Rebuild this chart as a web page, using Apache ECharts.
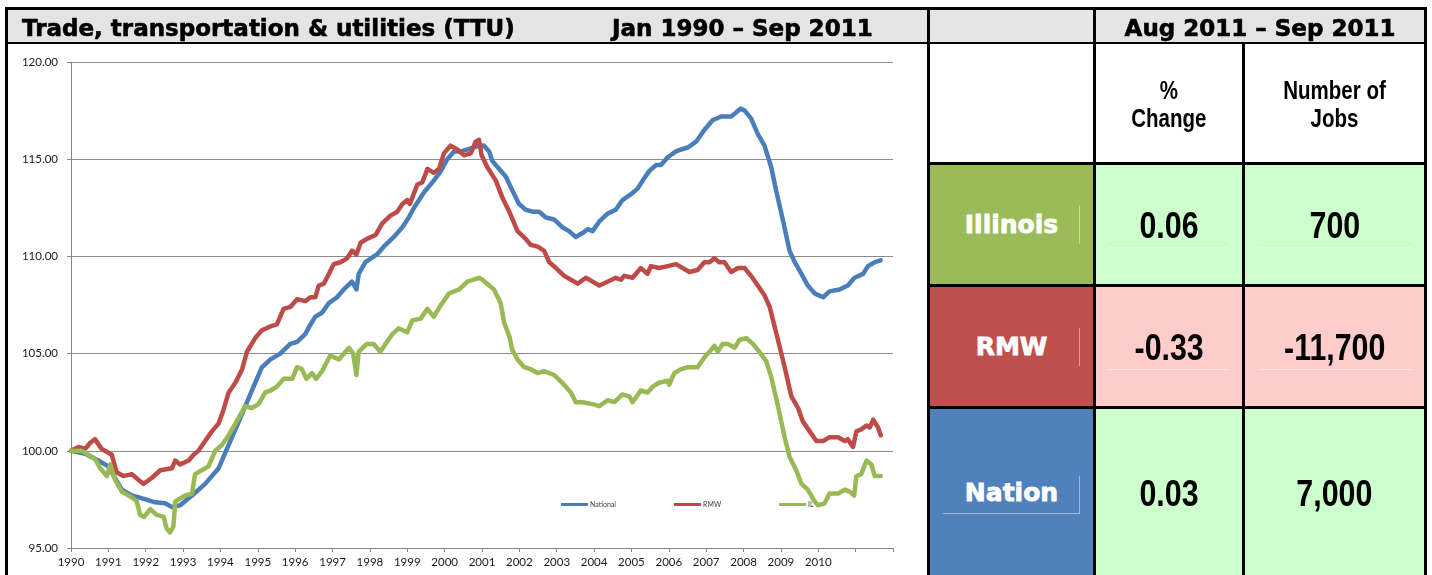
<!DOCTYPE html>
<html>
<head>
<meta charset="utf-8">
<script src="https://cdn.jsdelivr.net/npm/echarts@6/dist/echarts.min.js"></script>
<style>
  html, body { margin: 0; padding: 0; background: #fff; }
  #page { position: relative; width: 1432px; height: 575px; overflow: hidden; background: #fff; }
  #chart { position: absolute; left: 0; top: 0; width: 1432px; height: 575px; }
  .box { position: absolute; }
  .blk { position: absolute; background: #000; }
  .cell { position: absolute; display: flex; align-items: center; justify-content: center; text-align: center; }
  .hdr { font-family: "DejaVu Sans", Verdana, sans-serif; font-weight: bold; font-size: 23px; color: #000; white-space: nowrap; -webkit-text-stroke: 0.6px #000; }
  .narrow { display: inline-block; transform: scaleX(0.82); font-family: "Liberation Sans", Arial, sans-serif; font-weight: bold; color: #000; white-space: nowrap; }
  .region { font-family: "DejaVu Sans", Verdana, sans-serif; font-weight: bold; font-size: 25px; color: #fff; -webkit-text-stroke: 0.8px #fff; }
  .faint { position: absolute; background: rgba(255,255,255,0.45); }
</style>
</head>
<body>
<div id="page">
  <div id="chart"></div>
</div>
<script>
// series: [year, index]
const seriesNames = ['National', 'RMW', 'IL'];
const seriesColors = ['#4A7EBB', '#BE4B48', '#98B954'];

const nationalPts = [
  [1990.0,100.0],[1990.38,99.85],[1990.73,99.5],[1991.0,99.2],[1991.18,98.6],[1991.36,98.0],[1991.63,97.7],
  [1992.0,97.5],[1992.25,97.35],[1992.52,97.3],[1992.7,97.1],[1992.92,97.2],[1993.24,97.7],[1993.59,98.3],
  [1993.95,99.1],[1994.22,100.3],[1994.49,101.5],[1994.84,103.1],[1995.11,104.3],[1995.34,104.7],[1995.6,105.0],
  [1995.87,105.5],[1996.05,105.6],[1996.27,106.0],[1996.41,106.5],[1996.54,106.9],[1996.72,107.1],[1996.9,107.6],
  [1997.12,107.9],[1997.3,108.3],[1997.52,108.7],[1997.64,108.3],[1997.7,109.1],[1997.88,109.7],[1998.19,110.1],
  [1998.37,110.5],[1998.64,111.0],[1998.87,111.5],[1999.04,112.0],[1999.18,112.5],[1999.45,113.3],[1999.71,113.9],
  [1999.9,114.4],[2000.07,115.0],[2000.25,115.4],[2000.43,115.4],[2000.61,115.5],[2000.79,115.6],[2000.92,115.7],
  [2001.05,115.7],[2001.19,115.4],[2001.28,114.9],[2001.46,114.5],[2001.64,114.1],[2001.81,113.4],[2001.99,112.7],
  [2002.17,112.4],[2002.35,112.3],[2002.53,112.3],[2002.71,112.0],[2002.93,111.9],[2003.15,111.5],[2003.33,111.3],
  [2003.51,111.0],[2003.69,111.2],[2003.83,111.4],[2003.96,111.3],[2004.14,111.8],[2004.36,112.2],[2004.58,112.4],
  [2004.76,112.9],[2004.99,113.2],[2005.17,113.5],[2005.3,113.9],[2005.48,114.4],[2005.66,114.7],[2005.79,114.7],
  [2005.97,115.1],[2006.19,115.4],[2006.33,115.5],[2006.51,115.6],[2006.73,115.9],[2006.95,116.5],[2007.17,117.0],
  [2007.4,117.2],[2007.67,117.2],[2007.8,117.4],[2007.92,117.6],[2008.03,117.5],[2008.2,117.1],[2008.38,116.3],
  [2008.56,115.7],[2008.74,114.6],[2008.87,113.4],[2009.05,111.9],[2009.23,110.3],[2009.37,109.7],[2009.55,109.1],
  [2009.72,108.5],[2009.9,108.1],[2010.13,107.9],[2010.3,108.2],[2010.57,108.3],[2010.79,108.5],[2010.97,108.9],
  [2011.2,109.1],[2011.33,109.5],[2011.51,109.7],[2011.67,109.8]
];

const rmwPts = [
  [1990.0,100.0],[1990.2,100.2],[1990.38,100.1],[1990.51,100.4],[1990.64,100.6],[1990.82,100.1],[1991.0,99.9],
  [1991.09,99.8],[1991.22,98.9],[1991.4,98.7],[1991.63,98.8],[1991.81,98.5],[1991.94,98.3],[1992.16,98.6],
  [1992.39,99.0],[1992.7,99.1],[1992.79,99.5],[1992.92,99.3],[1993.15,99.5],[1993.28,99.8],[1993.41,100.0],
  [1993.59,100.5],[1993.77,101.0],[1993.95,101.4],[1994.08,102.1],[1994.22,103.0],[1994.4,103.5],[1994.58,104.2],
  [1994.71,105.1],[1994.93,105.8],[1995.11,106.2],[1995.34,106.4],[1995.51,106.5],[1995.69,107.3],[1995.87,107.4],
  [1996.05,107.8],[1996.27,107.7],[1996.41,107.9],[1996.54,107.9],[1996.63,108.5],[1996.77,108.6],[1996.9,109.1],
  [1997.03,109.6],[1997.21,109.7],[1997.39,109.9],[1997.52,110.3],[1997.64,110.1],[1997.75,110.7],[1997.92,110.9],
  [1998.15,111.1],[1998.33,111.7],[1998.55,112.1],[1998.73,112.3],[1998.87,112.7],[1999.0,112.9],[1999.07,112.7],
  [1999.27,113.7],[1999.4,113.8],[1999.54,114.5],[1999.71,114.3],[1999.85,114.5],[1999.98,115.3],[2000.16,115.7],
  [2000.34,115.5],[2000.52,115.2],[2000.7,115.3],[2000.83,115.9],[2000.92,116.0],[2000.99,115.2],[2001.14,114.6],
  [2001.37,113.9],[2001.55,113.0],[2001.73,112.3],[2001.95,111.3],[2002.17,110.9],[2002.3,110.6],[2002.49,110.5],
  [2002.66,110.3],[2002.8,109.7],[2002.98,109.4],[2003.2,109.0],[2003.38,108.8],[2003.56,108.6],[2003.78,108.9],
  [2003.96,108.7],[2004.14,108.5],[2004.36,108.7],[2004.58,108.9],[2004.72,108.8],[2004.81,109.0],[2005.03,108.9],
  [2005.25,109.4],[2005.43,109.1],[2005.52,109.5],[2005.74,109.4],[2005.97,109.5],[2006.19,109.6],[2006.46,109.3],
  [2006.55,109.2],[2006.77,109.3],[2006.95,109.7],[2007.09,109.7],[2007.22,109.9],[2007.35,109.7],[2007.49,109.7],
  [2007.67,109.2],[2007.85,109.4],[2008.03,109.4],[2008.2,109.0],[2008.38,108.5],[2008.56,108.0],[2008.7,107.4],
  [2008.83,106.4],[2008.96,105.4],[2009.1,104.3],[2009.28,102.8],[2009.46,102.2],[2009.59,101.5],[2009.77,101.0],
  [2009.95,100.5],[2010.13,100.5],[2010.3,100.7],[2010.53,100.7],[2010.71,100.5],[2010.79,100.6],[2010.93,100.2],
  [2011.02,101.0],[2011.15,101.1],[2011.29,101.3],[2011.38,101.2],[2011.47,101.6],[2011.6,101.2],[2011.67,100.8]
];

const ilPts = [
  [1990.0,100.0],[1990.29,100.0],[1990.46,99.8],[1990.64,99.6],[1990.78,99.1],[1990.96,98.7],[1991.05,99.3],
  [1991.18,98.5],[1991.36,97.9],[1991.63,97.6],[1991.76,97.4],[1991.85,96.7],[1991.96,96.6],[1992.12,97.0],
  [1992.3,96.7],[1992.48,96.6],[1992.56,96.0],[1992.65,95.8],[1992.74,96.1],[1992.79,97.4],[1993.06,97.7],
  [1993.24,97.8],[1993.32,98.8],[1993.5,99.0],[1993.68,99.2],[1993.86,100.0],[1994.04,100.3],[1994.22,100.8],
  [1994.4,101.4],[1994.66,102.3],[1994.84,102.2],[1995.02,102.4],[1995.2,103.0],[1995.34,103.1],[1995.51,103.3],
  [1995.69,103.7],[1995.92,103.7],[1996.05,104.3],[1996.18,104.2],[1996.3,103.7],[1996.45,104.0],[1996.56,103.7],
  [1996.72,104.1],[1996.94,104.9],[1997.17,104.7],[1997.44,105.3],[1997.55,105.0],[1997.64,103.9],[1997.7,105.1],
  [1997.92,105.5],[1998.1,105.5],[1998.28,105.1],[1998.42,105.5],[1998.6,106.0],[1998.77,106.3],[1999.0,106.1],
  [1999.13,106.7],[1999.36,106.8],[1999.54,107.3],[1999.71,106.9],[1999.9,107.5],[2000.12,108.1],[2000.39,108.3],
  [2000.61,108.7],[2000.92,108.9],[2001.01,108.8],[2001.32,108.3],[2001.5,107.6],[2001.59,106.6],[2001.73,105.9],
  [2001.81,105.2],[2001.95,104.7],[2002.13,104.3],[2002.3,104.2],[2002.49,104.0],[2002.66,104.1],[2002.93,103.9],
  [2003.15,103.5],[2003.38,103.0],[2003.51,102.5],[2003.69,102.5],[2003.96,102.4],[2004.14,102.3],[2004.36,102.6],
  [2004.54,102.5],[2004.76,102.9],[2004.94,102.8],[2005.03,102.5],[2005.25,103.1],[2005.43,103.0],[2005.57,103.3],
  [2005.74,103.5],[2005.97,103.6],[2006.01,103.4],[2006.15,104.0],[2006.33,104.2],[2006.51,104.3],[2006.77,104.3],
  [2006.95,104.8],[2007.09,105.1],[2007.22,105.4],[2007.31,105.1],[2007.44,105.5],[2007.58,105.5],[2007.76,105.3],
  [2007.89,105.7],[2008.07,105.8],[2008.25,105.5],[2008.42,105.1],[2008.61,104.6],[2008.74,103.8],[2008.92,102.3],
  [2009.1,100.7],[2009.23,99.7],[2009.41,99.0],[2009.55,98.3],[2009.72,98.0],[2009.9,97.4],[2009.99,97.2],
  [2010.17,97.3],[2010.3,97.8],[2010.53,97.8],[2010.71,98.0],[2010.84,97.9],[2010.96,97.7],[2011.02,98.7],
  [2011.15,98.8],[2011.29,99.5],[2011.42,99.3],[2011.51,98.7],[2011.67,98.7]
];

// table on the right: Aug 2011 - Sep 2011
const regions = ['Illinois', 'RMW', 'Nation'];
const regionColors = ['#9BBB59', '#C0504D', '#4F81BD'];
const pctChange = ['0.06', '-0.33', '0.03'];
const jobsChange = ['700', '-11,700', '7,000'];

const page = document.getElementById('page');

function add(cls, l, t, w, h, bg, html) {
  const d = document.createElement('div');
  d.className = cls;
  d.style.left = l + 'px';
  d.style.top = t + 'px';
  d.style.width = w + 'px';
  d.style.height = h + 'px';
  if (bg) d.style.background = bg;
  if (html) d.innerHTML = html;
  page.appendChild(d);
  return d;
}

// header band
add('box', 8, 10, 1416, 32, '#e4e4e4');
add('cell', 1096, 12, 328, 32, null, '<span class="hdr">Aug 2011 \u2013 Sep 2011</span>');
const t1 = add('box', 22, 12, 520, 32, null, '<span class="hdr">Trade, transportation &amp; utilities (TTU)</span>');
t1.style.lineHeight = '32px';
const t2 = add('box', 612, 12, 300, 32, null, '<span class="hdr">Jan 1990 \u2013 Sep 2011</span>');
t2.style.lineHeight = '32px';

// column headings
const hStyle = 'font-size:25px;line-height:28px;';
add('cell', 1096, 45, 146, 117, null, '<span class="narrow" style="' + hStyle + '">%<br>Change</span>');
add('cell', 1245, 45, 179, 117, null, '<span class="narrow" style="' + hStyle + '">Number of<br>Jobs</span>');

// data rows
const rowTops = [165, 287, 409];
const rowHeights = [119, 119, 166];
regions.forEach((name, i) => {
  const top = rowTops[i], h = rowHeights[i];
  const fill = pctChange[i].startsWith('-') ? '#FFCCCC' : '#CCFFCC';
  add('cell', 930, top, 163, h, regionColors[i], '<span class="region">' + name + '</span>');
  add('cell', 1096, top, 146, h + 3, fill, '<span class="narrow" style="font-size:37px">' + pctChange[i] + '</span>');
  add('cell', 1245, top, 179, h + 3, fill, '<span class="narrow" style="font-size:37px">' + jobsChange[i] + '</span>');
  // faint text-box edges left over in the original
  const mid = i === 2 ? 495 : top + 60;
  add('faint', 1079, mid - 19, 1, 38);
  if (i === 2) {
    add('faint', 943, mid + 18, 136, 1);
  } else {
    add('faint', 1108, top + 82, 120, 1);
    add('faint', 1258, top + 82, 154, 1);
  }
});

// black rules
add('blk', 5, 7, 1422, 3);
add('blk', 5, 7, 3, 568);
add('blk', 1424, 7, 3, 568);
add('blk', 5, 42, 1422, 2);
add('blk', 927, 10, 3, 565);
add('blk', 1093, 10, 3, 565);
add('blk', 1242, 44, 3, 531);
add('blk', 927, 162, 500, 3);
add('blk', 927, 284, 500, 3);
add('blk', 927, 406, 500, 3);

// line chart
const chart = echarts.init(document.getElementById('chart'));
const axisGray = '#868686';
const lblFont = { color: '#1a1a1a', fontFamily: 'Lato, "Open Sans", sans-serif', fontSize: 11.5 };

const option = {
  animation: false,
  backgroundColor: '#fff',
  grid: { left: 71, top: 62, width: 822, height: 486 },
  legend: {
    left: 556,
    top: 496,
    icon: 'rect',
    itemWidth: 27,
    itemHeight: 3,
    itemGap: 58,
    textStyle: { fontSize: 7, color: '#404040', fontFamily: 'Lato, sans-serif', padding: [0, 0, 0, -3] },
    data: seriesNames
  },
  xAxis: {
    type: 'value',
    min: 1990,
    max: 2012,
    interval: 1,
    axisLine: { lineStyle: { color: axisGray } },
    axisTick: { length: 4, lineStyle: { color: axisGray } },
    splitLine: { show: false },
    axisLabel: Object.assign({ margin: 8, formatter: v => (v <= 2010 ? String(v) : '') }, lblFont)
  },
  yAxis: {
    type: 'value',
    min: 95,
    max: 120,
    interval: 5,
    axisLine: { show: true, lineStyle: { color: axisGray } },
    axisTick: { show: true, length: 4, lineStyle: { color: axisGray } },
    splitLine: { lineStyle: { color: '#8c8c8c', width: 1 } },
    axisLabel: Object.assign({ margin: 13, formatter: v => v.toFixed(2) }, lblFont)
  },
  series: [nationalPts, rmwPts, ilPts].map((pts, i) => ({
    name: seriesNames[i],
    type: 'line',
    data: pts,
    symbol: 'none',
    color: seriesColors[i],
    lineStyle: { width: 4.5, color: seriesColors[i], cap: 'round', join: 'round' }
  }))
};
chart.setOption(option);
</script>
</body>
</html>
